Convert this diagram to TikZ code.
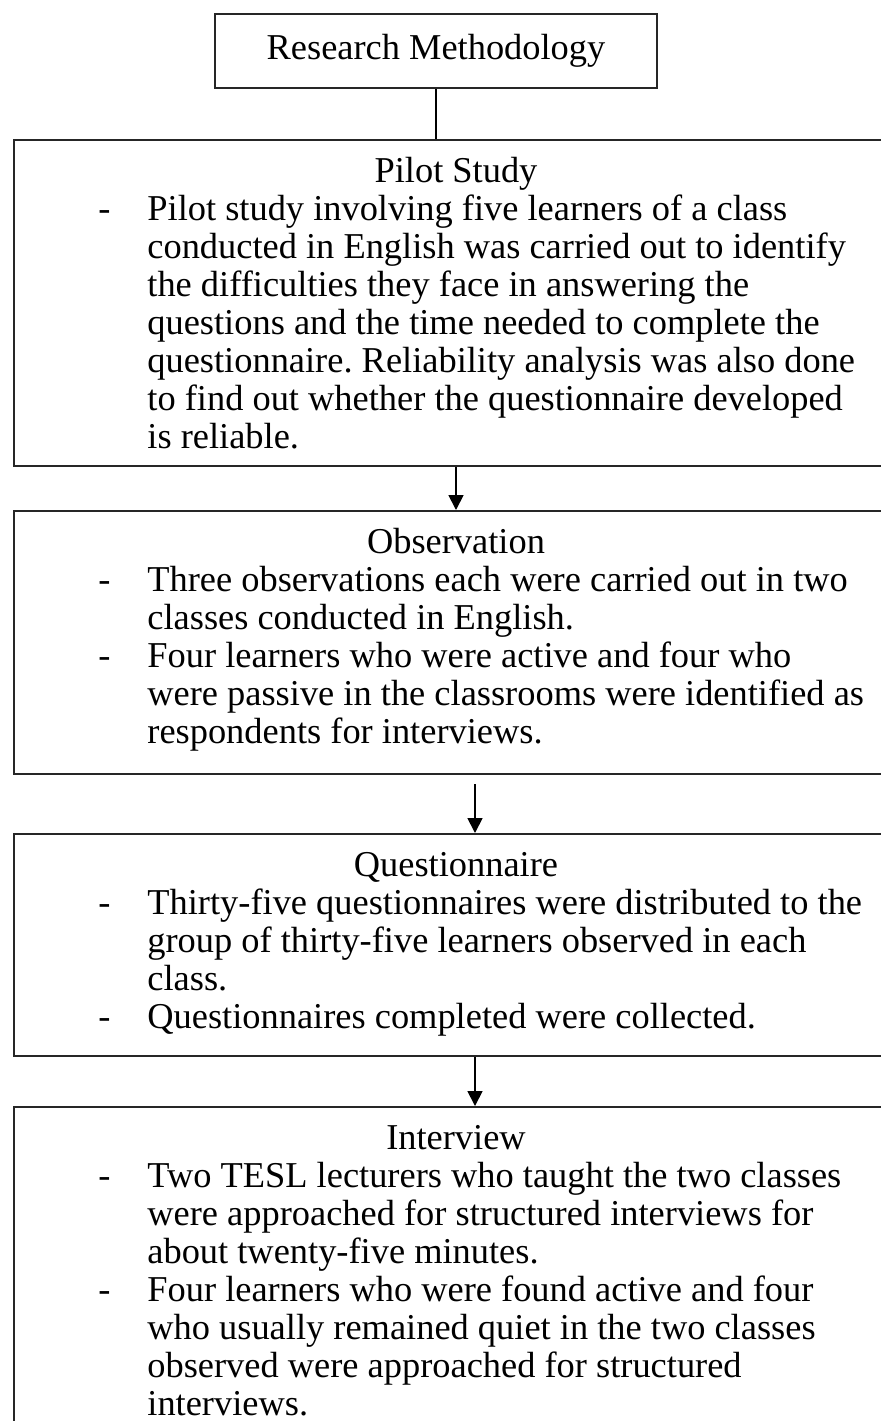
\documentclass[tikz,border=0pt]{standalone}
\usepackage{fontspec}
\setmainfont{Liberation Serif}
\usetikzlibrary{arrows.meta,positioning}
\frenchspacing
\newcommand{\stagefont}{\fontsize{18.2}{19}\selectfont}
\tikzset{
  stagebox/.style  = {draw=black!85, line width=1pt, inner sep=0pt,
                      anchor=north west, minimum width=442pt},
  stagehead/.style = {anchor=base, inner sep=0pt},
  stagebody/.style = {anchor=base west, inner sep=0pt},
  link/.style      = {draw=black, line width=0.9pt},
  linkar/.style    = {link, -{Triangle[length=7.5pt,width=7.5pt]}},
}

\begin{document}
\begin{tikzpicture}[x=0.5pt, y=-0.5pt, font=\stagefont]
  \useasboundingbox (0,0) rectangle (881,1421);

  % title box
  \node[draw=black!85, line width=1pt, minimum width=221pt, minimum height=37pt]
    (method) at (436,51) {Research Methodology};

  % stage boxes
  \node[stagebox, minimum height=163pt]   (pilot) at (13,139)  {};
  \node[stagebox, minimum height=131.5pt] (obs)   at (13,510)  {};
  \node[stagebox, minimum height=111pt]   (quest) at (13,833)  {};
  \node[stagebox, minimum height=169.5pt] (inter) at (13,1106) {};

  % pilot study
  \node[stagehead] (pilothead) at ([shift={(0,43)}]pilot.north) {Pilot Study};
  \node[stagebody] (pilotbody) at ([shift={(85,81)}]pilot.north west) {%
    \begin{tabular}[t]{@{}p{24.5pt}@{}l@{}}
    - & Pilot study involving five learners of a class\\
      & conducted in English was carried out to identify\\
      & the difficulties they face in answering the\\
      & questions and the time needed to complete the\\
      & questionnaire. Reliability analysis was also done\\
      & to find out whether the questionnaire developed\\
      & is reliable.
    \end{tabular}};

  % observation
  \node[stagehead] (obshead) at ([shift={(0,43)}]obs.north) {Observation};
  \node[stagebody] (obsbody) at ([shift={(85,81)}]obs.north west) {%
    \begin{tabular}[t]{@{}p{24.5pt}@{}l@{}}
    - & Three observations each were carried out in two\\
      & classes conducted in English.\\
    - & Four learners who were active and four who\\
      & were passive in the classrooms were identified as\\
      & respondents for interviews.
    \end{tabular}};

  % questionnaire
  \node[stagehead] (questhead) at ([shift={(0,43)}]quest.north) {Questionnaire};
  \node[stagebody] (questbody) at ([shift={(85,81)}]quest.north west) {%
    \begin{tabular}[t]{@{}p{24.5pt}@{}l@{}}
    - & Thirty-five questionnaires were distributed to the\\
      & group of thirty-five learners observed in each\\
      & class.\\
    - & Questionnaires completed were collected.
    \end{tabular}};

  % interview
  \node[stagehead] (interhead) at ([shift={(0,43)}]inter.north) {Interview};
  \node[stagebody] (interbody) at ([shift={(85,81)}]inter.north west) {%
    \begin{tabular}[t]{@{}p{24.5pt}@{}l@{}}
    - & Two TESL lecturers who taught the two classes\\
      & were approached for structured interviews for\\
      & about twenty-five minutes.\\
    - & Four learners who were found active and four\\
      & who usually remained quiet in the two classes\\
      & observed were approached for structured\\
      & interviews.
    \end{tabular}};

  % connectors
  \draw[link]   (method.south) -- (method.south |- pilot.north);
  \draw[linkar] (pilot.south) -- (obs.north);
  \draw[linkar] ([shift={(19,9)}]obs.south) -- ([xshift=9.5pt]quest.north);
  \draw[linkar] ([xshift=9.5pt]quest.south) -- ([xshift=9.5pt]inter.north);
\end{tikzpicture}
\end{document}
